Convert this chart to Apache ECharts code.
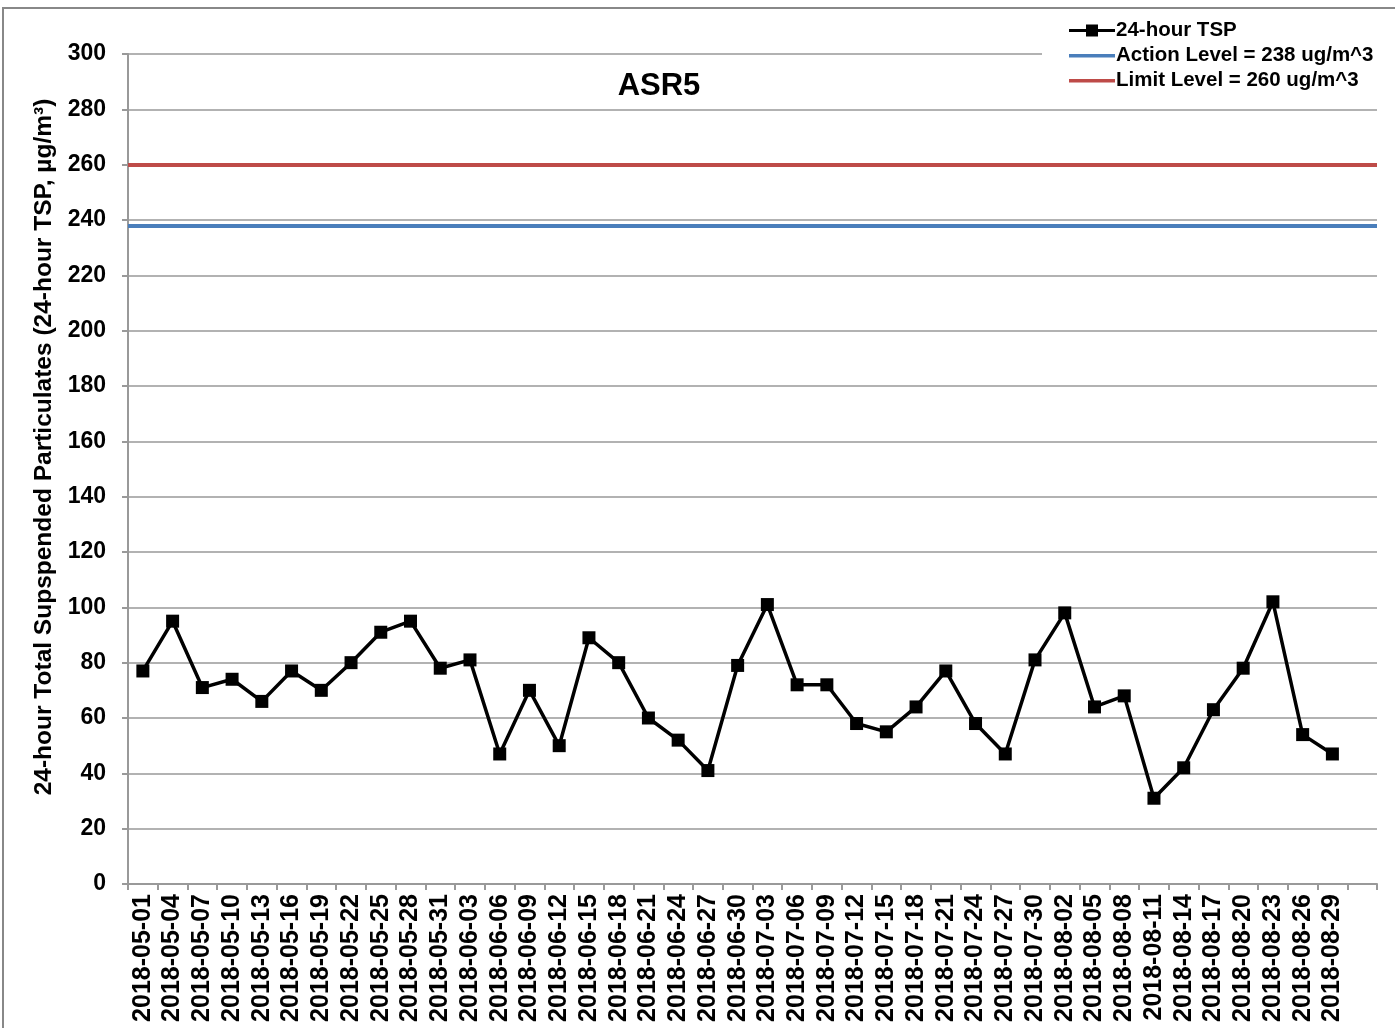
<!DOCTYPE html>
<html><head><meta charset="utf-8">
<script src="https://cdn.jsdelivr.net/npm/echarts@6/dist/echarts.min.js"></script>
<style>html,body{margin:0;padding:0;background:#fff}#c{width:1395px;height:1028px}</style>
</head><body><div id="c"></div>
<script>
const categories = ['2018-05-01','2018-05-04','2018-05-07','2018-05-10','2018-05-13','2018-05-16','2018-05-19','2018-05-22','2018-05-25','2018-05-28','2018-05-31',
'2018-06-03','2018-06-06','2018-06-09','2018-06-12','2018-06-15','2018-06-18','2018-06-21','2018-06-24','2018-06-27','2018-06-30',
'2018-07-03','2018-07-06','2018-07-09','2018-07-12','2018-07-15','2018-07-18','2018-07-21','2018-07-24','2018-07-27','2018-07-30',
'2018-08-02','2018-08-05','2018-08-08','2018-08-11','2018-08-14','2018-08-17','2018-08-20','2018-08-23','2018-08-26','2018-08-29',''];
const tsp = [77,95,71,74,66,77,70,80,91,95,78,
81,47,70,50,89,80,60,52,41,79,
101,72,72,58,55,64,77,58,47,81,
98,64,68,31,42,63,78,102,54,47];
const actionLevel = 238;
const limitLevel = 260;
const yTicks = {min:0, max:300, interval:20};

const F = 'Liberation Sans, Arial, sans-serif';
const lineIcon = 'path://M0,0 L0.01,0 L0.01,0.01 Z M0,4.5 L46,4.5 L46,8 L0,8 Z M0,12 L0.01,12 L0.01,11.99 Z';
const tspIcon = 'path://M0,4.5 L46,4.5 L46,7.5 L0,7.5 Z M17,0 L29,0 L29,12 L17,12 Z';
const chart = echarts.init(document.getElementById('c'));
chart.setOption({
  animation:false,
  backgroundColor:'#fff',
  title:{text:'ASR5', left:654, top:66, textAlign:'center',
    textStyle:{fontFamily:F, fontWeight:'bold', fontSize:31, color:'#000'}},
  legend:{orient:'vertical', left:1042, top:15, itemWidth:46, itemHeight:12, itemGap:4,
    padding:[5,12,5,27], backgroundColor:'#fff', z:10,
    textStyle:{fontFamily:F, fontWeight:'bold', fontSize:20.5, color:'#000', padding:[0,0,0,-4]},
    data:[{name:'24-hour TSP', icon:tspIcon, itemStyle:{color:'#000'}},
      {name:'Action Level = 238 ug/m^3', icon:lineIcon, itemStyle:{color:'#4a7ebb'}},
      {name:'Limit Level = 260 ug/m^3', icon:lineIcon, itemStyle:{color:'#be4b48'}}]},
  grid:{left:128, right:18, top:54, bottom:144},
  graphic:[{type:'rect', shape:{x:3,y:8,width:1400,height:1030}, style:{fill:'none', stroke:'#888', lineWidth:2}, silent:true}],
  xAxis:{type:'category', data:categories, boundaryGap:true,
    axisLine:{lineStyle:{color:'#999', width:2}},
    axisTick:{show:true, alignWithLabel:false, length:6, lineStyle:{color:'#999', width:2}, interval:0},
    axisLabel:{rotate:90, interval:0, fontFamily:F, fontWeight:'bold', fontSize:25, color:'#000', margin:10},
    splitLine:{show:false}},
  yAxis:{type:'value', min:yTicks.min, max:yTicks.max, interval:yTicks.interval,
    name:'24-hour Total Supspended Particulates (24-hour TSP, µg/m³)', nameLocation:'middle', nameGap:70, nameRotate:90,
    nameTextStyle:{fontFamily:F, fontWeight:'bold', fontSize:24.5, color:'#000', padding:[0,0,0,44]},
    axisLine:{show:true, lineStyle:{color:'#999', width:2}},
    axisTick:{show:true, inside:false, length:6, lineStyle:{color:'#999', width:2}},
    axisLabel:{fontFamily:F, fontWeight:'bold', fontSize:23, color:'#000', margin:22},
    splitLine:{lineStyle:{color:'#999', width:1.5}}},
  series:[
    {name:'24-hour TSP', type:'line', data:tsp, symbol:'rect', symbolSize:13,
      itemStyle:{color:'#000'}, lineStyle:{color:'#000', width:3.5}, z:5},
    {name:'Action Level = 238 ug/m^3', type:'line', data:[], itemStyle:{color:'#4a7ebb'}, lineStyle:{color:'#4a7ebb', width:4},
      markLine:{silent:true, symbol:'none', label:{show:false}, lineStyle:{color:'#4a7ebb', width:4, type:'solid'},
        data:[{yAxis:actionLevel}]}},
    {name:'Limit Level = 260 ug/m^3', type:'line', data:[], itemStyle:{color:'#be4b48'}, lineStyle:{color:'#be4b48', width:4},
      markLine:{silent:true, symbol:'none', label:{show:false}, lineStyle:{color:'#be4b48', width:4, type:'solid'},
        data:[{yAxis:limitLevel}]}}
  ]
});
</script></body></html>
